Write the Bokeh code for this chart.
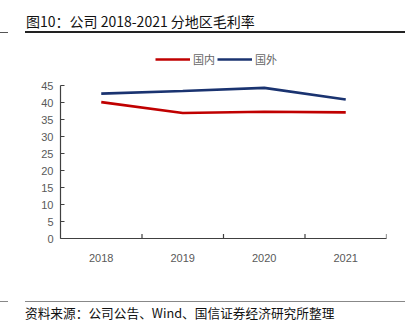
from bokeh.plotting import figure
from bokeh.models import (FactorRange, Range1d, Legend, LegendItem, FixedTicker, Div)
from bokeh.layouts import column
from bokeh.embed import file_html
from bokeh.resources import INLINE

years = ["2018", "2019", "2020", "2021"]
domestic = [40.1, 36.9, 37.3, 37.1]
overseas = [42.6, 43.4, 44.3, 40.9]
series_names = ["国内", "国外"]
y_ticks = [0, 5, 10, 15, 20, 25, 30, 35, 40, 45]
title_text = "图10：公司 2018-2021 分地区毛利率"
source_text = "资料来源：公司公告、Wind、国信证券经济研究所整理"

W = 416
TITLE_H = 40
FIG_H = 250
SRC_H = 37
FL, FR = 60, 386                 # frame left / right (canvas px)
F_TOP, F_BOT = 45, 238           # frame top / bottom (canvas px)
AX_TOP = 85                      # canvas y of value 45
y_end = 45 * (F_BOT - F_TOP) / (F_BOT - AX_TOP)

p = figure(width=W, height=FIG_H, output_backend="svg", toolbar_location=None,
           x_range=FactorRange(factors=years, range_padding=0),
           y_range=Range1d(0, y_end),
           min_border_left=FL, min_border_right=W - FR,
           min_border_top=F_TOP - TITLE_H, min_border_bottom=TITLE_H + FIG_H - F_BOT)
p.title.visible = False
p.outline_line_color = None
p.background_fill_color = "white"
p.border_fill_color = "white"
p.xgrid.grid_line_color = None
p.ygrid.grid_line_color = None

axis_col = "#404040"
lab_col = "#595959"
for ax in (p.xaxis[0], p.yaxis[0]):
    ax.axis_line_color = axis_col
    ax.axis_line_width = 1.2
    ax.major_label_text_color = lab_col
    ax.major_label_text_font = "Liberation Sans"
    ax.major_label_text_font_size = "11px"
    ax.minor_tick_line_color = None

p.yaxis[0].ticker = FixedTicker(ticks=y_ticks)
p.yaxis[0].bounds = (0, 45)
p.yaxis[0].major_tick_in = 4
p.yaxis[0].major_tick_out = 0
p.yaxis[0].major_tick_line_color = axis_col
p.yaxis[0].major_label_standoff = 7
p.xaxis[0].major_tick_line_color = None
p.xaxis[0].major_label_standoff = 9

# category boundary ticks (pointing inward)
p.segment(x0=[(y, 0.5) for y in years], y0=0,
          x1=[(y, 0.5) for y in years], y1=1.3,
          line_color=axis_col, line_width=1.2)

r1 = p.line(years, domestic, line_color="#C00000", line_width=2.6)
r2 = p.line(years, overseas, line_color="#1A3370", line_width=2.6)

legend = Legend(items=[LegendItem(label=series_names[0], renderers=[r1]),
                       LegendItem(label=series_names[1], renderers=[r2])],
                orientation="horizontal", location=(95, F_BOT - 69),
                glyph_width=35, glyph_height=20, label_standoff=3, spacing=2,
                padding=0, margin=0, border_line_color=None,
                background_fill_alpha=0,
                label_text_font="Noto Sans CJK SC",
                label_text_font_size="11px", label_text_color="#666666")
p.add_layout(legend)

title_html = (
    f'<div style="position:relative;width:{W}px;height:{TITLE_H}px;overflow:hidden;">'
    '<div style="position:absolute;left:26px;top:11px;font-family:\'Noto Sans CJK SC\';'
    'font-size:14px;line-height:20px;color:#111;white-space:nowrap;">'
    f'{title_text}</div>'
    '<div style="position:absolute;left:0px;top:32px;width:8px;height:1px;background:#555;"></div>'
    '<div style="position:absolute;left:25px;top:31px;width:380px;height:1.5px;background:#222;"></div>'
    '</div>')
source_html = (
    f'<div style="position:relative;width:{W}px;height:{SRC_H}px;overflow:hidden;">'
    '<div style="position:absolute;left:0px;top:11px;width:8px;height:1px;background:#888;"></div>'
    '<div style="position:absolute;left:25px;top:11px;width:380px;height:1px;background:#888;"></div>'
    '<div style="position:absolute;left:25px;top:14px;font-family:\'Noto Sans CJK SC\';'
    'font-size:12.7px;line-height:18px;color:#111;white-space:nowrap;">'
    f'{source_text}</div>'
    '</div>')

title_div = Div(text=title_html, width=W, height=TITLE_H, margin=(0, 0, 0, 0))
source_div = Div(text=source_html, width=W, height=SRC_H, margin=(0, 0, 0, 0))

layout = column(title_div, p, source_div, spacing=0)
open("out.html", "w").write(file_html(layout, INLINE))
